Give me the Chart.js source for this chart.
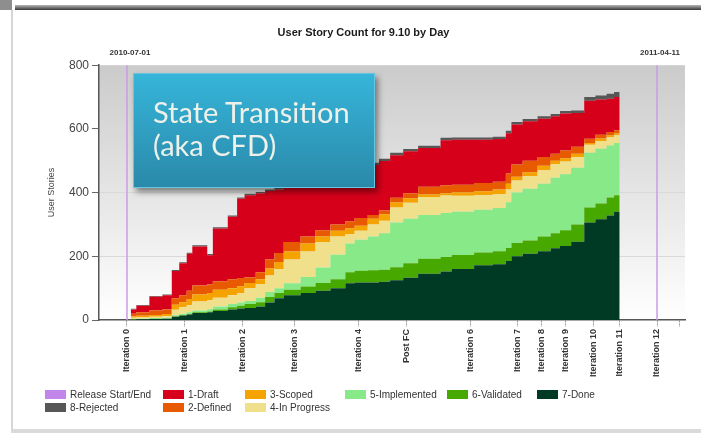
<!DOCTYPE html>
<html>
<head>
<meta charset="utf-8">
<script src="https://cdn.jsdelivr.net/npm/chart.js@4.4.1/dist/chart.umd.min.js"></script>
<style>
  html, body { margin: 0; padding: 0; background: #fff; }
  body { width: 701px; height: 433px; position: relative; overflow: hidden; font-family: 'Liberation Sans', Arial, sans-serif; }
  #chart { position: absolute; left: 0; top: 0; }
  .corner { position: absolute; left: 0; top: 0; width: 12px; height: 10px; background: #8e8e8e; }
  .topbar { position: absolute; left: 15px; top: 5px; right: 0; height: 5px; background: linear-gradient(#b8b8b8, #363636); }
  .leftline { position: absolute; left: 11px; top: 10px; bottom: 3px; width: 2px; background: #d6d6d6; }
  .bottombar { position: absolute; left: 11px; right: 0; bottom: 0; height: 4px; background: #dadada; }
  .callout {
    position: absolute; left: 133px; top: 73px; width: 242px; height: 115px; box-sizing: border-box;
    border: 1px solid #66c6e0;
    background: linear-gradient(#36b5d9, #2a89aa);
    box-shadow: 3px 4px 6px rgba(0, 0, 0, 0.45);
    color: #eef1e9; font-family: Lato, 'Open Sans', sans-serif; font-size: 29px; line-height: 33px;
    padding: 21px 0 0 19px;
  }
  #legend {
    position: absolute; left: 45px; top: 388px;
    display: grid; grid-template-columns: 118px 82px 100px 102px 90px auto; row-gap: 1px;
    font-size: 10px; color: #333;
  }
  #legend .item { display: flex; align-items: center; height: 12px; white-space: nowrap; }
  #legend .swatch { width: 21px; height: 9px; margin-right: 4px; }
</style>
</head>
<body>
<div class="corner"></div>
<div class="topbar"></div>
<div class="leftline"></div>
<div class="bottombar"></div>
<canvas id="chart" width="701" height="433"></canvas>
<div class="callout">State Transition<br>(aka CFD)</div>
<div id="legend"></div>
<script>
// days since release start (2010-07-01)
const days = [2, 5, 12, 19, 24, 28, 32, 35, 43, 46, 54, 59, 63, 69, 74, 79, 84, 93, 101, 109, 117, 122, 129, 135, 141,
    148, 156, 168, 174, 186, 196, 203, 206, 212, 220, 227, 232, 238, 245, 251, 257, 261, 264];

// stories in each state per day
const done = [1, 1, 2, 3, 4, 10, 14, 17, 22, 24, 28, 33, 36, 38, 42, 55, 68, 78, 85, 92, 100, 115, 118, 118, 120,
    125, 133, 145, 152, 160, 172, 175, 185, 200, 208, 216, 225, 232, 246, 306, 316, 328, 340];
const validated = [1, 1, 1, 1, 1, 2, 2, 2, 2, 3, 5, 7, 9, 12, 14, 17, 17, 17, 20, 24, 28, 35, 37, 38, 38,
    41, 45, 47, 46, 44, 40, 41, 41, 42, 42, 46, 47, 50, 54, 47, 50, 57, 52];
const implemented = [1, 1, 1, 2, 2, 3, 4, 5, 6, 7, 9, 10, 10, 10, 14, 16, 15, 20, 30, 49, 77, 90, 97, 106, 114,
    140, 140, 138, 138, 136, 134, 136, 144, 158, 162, 166, 175, 176, 178, 172, 172, 163, 164];
const inProgress = [3, 4, 4, 4, 5, 17, 20, 22, 28, 28, 28, 28, 29, 40, 42, 52, 60, 75, 80, 80, 57, 30, 28, 38, 40,
    47, 50, 56, 55, 50, 46, 43, 40, 38, 40, 42, 43, 40, 34, 25, 24, 26, 24];
const scoped = [4, 4, 5, 6, 7, 16, 16, 20, 22, 23, 25, 22, 22, 16, 16, 22, 22, 25, 25, 17, 18, 18, 16, 18, 20,
    16, 14, 8, 7, 10, 12, 15, 18, 12, 12, 14, 10, 10, 10, 6, 8, 6, 6];
const defined = [9, 9, 11, 14, 15, 20, 22, 26, 28, 27, 27, 28, 26, 18, 22, 28, 28, 30, 22, 20, 20, 22, 24, 12, 12,
    15, 16, 24, 25, 25, 26, 24, 32, 38, 36, 28, 22, 24, 22, 13, 12, 10, 10];
const draft = [10, 13, 21, 43, 44, 86, 100, 116, 123, 91, 165, 196, 249, 258, 248, 215, 200, 179, 174, 166, 160, 158, 160, 157, 155,
    133, 132, 122, 141, 141, 136, 134, 126, 126, 124, 120, 118, 116, 106, 119, 110, 105, 104];
const rejected = [2, 2, 2, 2, 2, 3, 3, 3, 4, 4, 4, 4, 4, 4, 4, 5, 5, 6, 6, 7, 6, 7, 7, 7, 7,
    8, 7, 7, 8, 7, 7, 7, 8, 8, 7, 8, 7, 8, 8, 12, 13, 15, 16];

// iteration boundaries on the x axis
const tickDays = [0, 31, 62, 90, 124, 150, 184, 209, 222, 235, 250, 264, 284, 296];
const tickLabels = ['Iteration 0', 'Iteration 1', 'Iteration 2', 'Iteration 3', 'Iteration 4', 'Post FC', 'Iteration 6',
    'Iteration 7', 'Iteration 8', 'Iteration 9', 'Iteration 10', 'Iteration 11', 'Iteration 12', ''];

const releaseDays = [0, 284];
const releaseDates = ['2010-07-01', '2011-04-11'];

const FONT = "'Liberation Sans', Arial, sans-serif";

// bottom of the stack first
const states = [
    { label: '7-Done', values: done, color: '#003a24' },
    { label: '6-Validated', values: validated, color: '#47a800' },
    { label: '5-Implemented', values: implemented, color: '#87e987' },
    { label: '4-In Progress', values: inProgress, color: '#f0e08c' },
    { label: '3-Scoped', values: scoped, color: '#f4a300' },
    { label: '2-Defined', values: defined, color: '#e85a00' },
    { label: '1-Draft', values: draft, color: '#d6001a' },
    { label: '8-Rejected', values: rejected, color: '#575757' }
];

const legendOrder = ['Release Start/End', '1-Draft', '3-Scoped', '5-Implemented', '6-Validated', '7-Done',
    '8-Rejected', '2-Defined', '4-In Progress'];

const datasets = states.map((s, i) => ({
    label: s.label,
    data: days.map((d, j) => ({ x: d, y: s.values[j] })),
    backgroundColor: s.color,
    borderColor: s.color,
    borderWidth: 0,
    pointRadius: 0,
    stepped: 'after',
    fill: i === 0 ? 'origin' : '-1',
    stack: 'states'
}));

// release start / end markers
const releaseLine = [];
releaseDays.forEach((d, i) => {
    if (i > 0) releaseLine.push({ x: (releaseDays[i - 1] + d) / 2, y: null });
    releaseLine.push({ x: d, y: 0 }, { x: d, y: 800 });
});
datasets.push({
    label: 'Release Start/End',
    data: releaseLine,
    borderColor: '#c99be8',
    backgroundColor: '#c285ea',
    borderWidth: 1.5,
    pointRadius: 0,
    fill: false,
    spanGaps: false,
    stack: 'release'
});

const plotBackground = {
    id: 'plotBackground',
    beforeDraw(chart) {
        const { ctx, chartArea: a } = chart;
        const g = ctx.createLinearGradient(0, a.top, 0, a.bottom);
        g.addColorStop(0, '#cbcbcb');
        g.addColorStop(1, '#ffffff');
        ctx.save();
        ctx.fillStyle = g;
        ctx.fillRect(a.left, a.top, a.right - a.left, a.bottom - a.top);
        ctx.restore();
    }
};

const releaseLabels = {
    id: 'releaseLabels',
    afterDraw(chart) {
        const { ctx, chartArea: a, scales: { x } } = chart;
        ctx.save();
        ctx.font = 'bold 8px ' + FONT;
        ctx.fillStyle = '#333';
        ctx.textAlign = 'center';
        ctx.textBaseline = 'middle';
        releaseDays.forEach((d, i) => {
            ctx.fillText(releaseDates[i], x.getPixelForValue(d) + 3, a.top - 12);
        });
        ctx.restore();
    }
};

const chart = new Chart(document.getElementById('chart'), {
    type: 'line',
    data: { datasets },
    options: {
        responsive: false,
        animation: false,
        devicePixelRatio: 1,
        layout: { padding: { left: 42, right: 16, top: 0, bottom: 0 } },
        plugins: {
            legend: { display: false },
            tooltip: { enabled: false },
            title: {
                display: true,
                text: 'User Story Count for 9.10 by Day',
                color: '#1a1a1a',
                font: { family: FONT, size: 11, weight: 'bold' },
                padding: { top: 26, bottom: 26 }
            }
        },
        scales: {
            x: {
                type: 'linear',
                min: -15,
                max: 299,
                afterBuildTicks: (scale) => { scale.ticks = tickDays.map(v => ({ value: v })); },
                afterFit: (scale) => { scale.height = 113; },
                ticks: {
                    autoSkip: false,
                    minRotation: 90,
                    maxRotation: 90,
                    padding: 2,
                    color: '#333',
                    font: { family: FONT, size: 9, weight: 'bold' },
                    callback: (v, i) => tickLabels[i]
                },
                grid: { drawOnChartArea: false, tickLength: 7, tickColor: '#9a9a9a', tickBorderDash: [2, 1] },
                border: { color: '#555', width: 1.5 }
            },
            y: {
                stacked: true,
                min: 0,
                max: 800,
                afterFit: (scale) => { scale.width = 57; },
                ticks: {
                    stepSize: 200,
                    padding: 3,
                    color: '#444',
                    font: { family: FONT, size: 12 }
                },
                grid: {
                    color: (c) => (c.tick && (c.tick.value === 0 || c.tick.value === 800)) ? 'rgba(0,0,0,0)' : '#d9d9d9',
                    tickColor: '#666',
                    tickLength: 7
                },
                border: { color: '#555', width: 1.5 },
                title: {
                    display: true,
                    text: 'User Stories',
                    color: '#444',
                    font: { family: FONT, size: 9 },
                    padding: { top: 4, bottom: 4 }
                }
            }
        }
    },
    plugins: [plotBackground, releaseLabels]
});

// legend laid out in a fixed grid, in the order the report uses
const legendEl = document.getElementById('legend');
legendOrder.forEach(name => {
    const ds = chart.data.datasets.find(d => d.label === name);
    const item = document.createElement('div');
    item.className = 'item';
    const sw = document.createElement('span');
    sw.className = 'swatch';
    sw.style.background = ds.backgroundColor;
    item.appendChild(sw);
    item.appendChild(document.createTextNode(ds.label));
    legendEl.appendChild(item);
});
</script>
</body>
</html>
